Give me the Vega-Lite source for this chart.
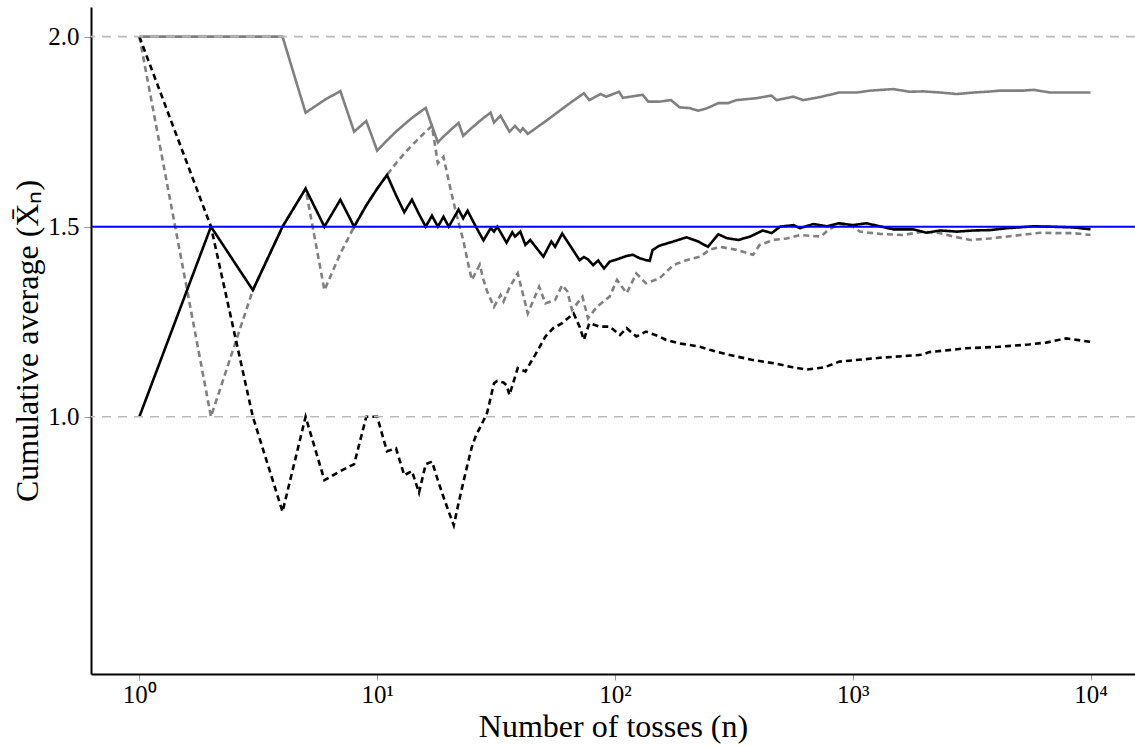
{
  "$schema": "https://vega.github.io/schema/vega-lite/v6.json",
  "width": 1044,
  "height": 667,
  "autosize": {"type": "none"},
  "padding": {"left": 91, "top": 7, "right": 0, "bottom": 72},
  "background": "white",
  "config": {
    "view": {"stroke": null},
    "axis": {
      "grid": false,
      "domainColor": "black",
      "domainWidth": 2,
      "tickColor": "#999999",
      "tickWidth": 1,
      "tickSize": 6,
      "labelFont": "Liberation Serif",
      "labelFontSize": 25,
      "labelColor": "black",
      "titleFont": "Liberation Serif",
      "titleFontSize": 32,
      "titleFontWeight": "normal",
      "titleColor": "black"
    }
  },
  "datasets": {
    "series": [
      {"s": "DG", "n": 1, "v": 2.0}, {"s": "DG", "n": 2, "v": 1.0}, {"s": "DG", "n": 3, "v": 1.333}, {"s": "DG", "n": 4, "v": 1.5},
      {"s": "DG", "n": 5, "v": 1.6}, {"s": "DG", "n": 6, "v": 1.333}, {"s": "DG", "n": 7, "v": 1.429}, {"s": "DG", "n": 8, "v": 1.5},
      {"s": "DG", "n": 9, "v": 1.556}, {"s": "DG", "n": 10, "v": 1.6}, {"s": "DG", "n": 11, "v": 1.636}, {"s": "DG", "n": 12, "v": 1.667},
      {"s": "DG", "n": 13, "v": 1.692}, {"s": "DG", "n": 14, "v": 1.714}, {"s": "DG", "n": 15, "v": 1.733}, {"s": "DG", "n": 16, "v": 1.75},
      {"s": "DG", "n": 17, "v": 1.765}, {"s": "DG", "n": 18, "v": 1.667}, {"s": "DG", "n": 19, "v": 1.684}, {"s": "DG", "n": 20, "v": 1.62},
      {"s": "DG", "n": 21, "v": 1.562}, {"s": "DG", "n": 22, "v": 1.51}, {"s": "DG", "n": 23, "v": 1.465}, {"s": "DG", "n": 24, "v": 1.41},
      {"s": "DG", "n": 25, "v": 1.36}, {"s": "DG", "n": 26, "v": 1.38}, {"s": "DG", "n": 27, "v": 1.4}, {"s": "DG", "n": 28, "v": 1.36},
      {"s": "DG", "n": 29, "v": 1.33}, {"s": "DG", "n": 31, "v": 1.289}, {"s": "DG", "n": 33, "v": 1.32}, {"s": "DG", "n": 34, "v": 1.303},
      {"s": "DG", "n": 36, "v": 1.34}, {"s": "DG", "n": 39, "v": 1.377}, {"s": "DG", "n": 43, "v": 1.272}, {"s": "DG", "n": 48, "v": 1.342},
      {"s": "DG", "n": 51, "v": 1.298}, {"s": "DG", "n": 56, "v": 1.307}, {"s": "DG", "n": 60, "v": 1.346}, {"s": "DG", "n": 63, "v": 1.33},
      {"s": "DG", "n": 66, "v": 1.281}, {"s": "DG", "n": 73, "v": 1.316}, {"s": "DG", "n": 77, "v": 1.259}, {"s": "DG", "n": 84, "v": 1.289},
      {"s": "DG", "n": 95, "v": 1.316}, {"s": "DG", "n": 102, "v": 1.36}, {"s": "DG", "n": 112, "v": 1.325}, {"s": "DG", "n": 123, "v": 1.377},
      {"s": "DG", "n": 135, "v": 1.351}, {"s": "DG", "n": 154, "v": 1.364}, {"s": "DG", "n": 176, "v": 1.399}, {"s": "DG", "n": 200, "v": 1.412},
      {"s": "DG", "n": 228, "v": 1.421}, {"s": "DG", "n": 250, "v": 1.439}, {"s": "DG", "n": 276, "v": 1.447}, {"s": "DG", "n": 324, "v": 1.439},
      {"s": "DG", "n": 381, "v": 1.426}, {"s": "DG", "n": 406, "v": 1.452}, {"s": "DG", "n": 463, "v": 1.465}, {"s": "DG", "n": 527, "v": 1.469},
      {"s": "DG", "n": 600, "v": 1.478}, {"s": "DG", "n": 737, "v": 1.474}, {"s": "DG", "n": 786, "v": 1.491}, {"s": "DG", "n": 879, "v": 1.507},
      {"s": "DG", "n": 1000, "v": 1.501}, {"s": "DG", "n": 1070, "v": 1.487}, {"s": "DG", "n": 1300, "v": 1.481}, {"s": "DG", "n": 1625, "v": 1.478},
      {"s": "DG", "n": 1975, "v": 1.487}, {"s": "DG", "n": 2330, "v": 1.483}, {"s": "DG", "n": 2650, "v": 1.474}, {"s": "DG", "n": 3120, "v": 1.465},
      {"s": "DG", "n": 3780, "v": 1.469}, {"s": "DG", "n": 4760, "v": 1.476}, {"s": "DG", "n": 6150, "v": 1.484}, {"s": "DG", "n": 7220, "v": 1.483},
      {"s": "DG", "n": 8480, "v": 1.483}, {"s": "DG", "n": 10000, "v": 1.478},

      {"s": "SG", "n": 1, "v": 2.0}, {"s": "SG", "n": 2, "v": 2.0}, {"s": "SG", "n": 3, "v": 2.0}, {"s": "SG", "n": 4, "v": 2.0},
      {"s": "SG", "n": 5, "v": 1.8}, {"s": "SG", "n": 6, "v": 1.833}, {"s": "SG", "n": 7, "v": 1.857}, {"s": "SG", "n": 8, "v": 1.75},
      {"s": "SG", "n": 9, "v": 1.778}, {"s": "SG", "n": 10, "v": 1.7}, {"s": "SG", "n": 11, "v": 1.727}, {"s": "SG", "n": 12, "v": 1.75},
      {"s": "SG", "n": 13, "v": 1.769}, {"s": "SG", "n": 14, "v": 1.786}, {"s": "SG", "n": 15, "v": 1.8}, {"s": "SG", "n": 16, "v": 1.8125},
      {"s": "SG", "n": 17, "v": 1.765}, {"s": "SG", "n": 18, "v": 1.722}, {"s": "SG", "n": 19, "v": 1.737}, {"s": "SG", "n": 20, "v": 1.75},
      {"s": "SG", "n": 21, "v": 1.762}, {"s": "SG", "n": 22, "v": 1.773}, {"s": "SG", "n": 23, "v": 1.739}, {"s": "SG", "n": 24, "v": 1.75},
      {"s": "SG", "n": 25, "v": 1.76}, {"s": "SG", "n": 26, "v": 1.769}, {"s": "SG", "n": 27, "v": 1.778}, {"s": "SG", "n": 28, "v": 1.786},
      {"s": "SG", "n": 29, "v": 1.793}, {"s": "SG", "n": 30, "v": 1.8}, {"s": "SG", "n": 31, "v": 1.774}, {"s": "SG", "n": 33, "v": 1.792},
      {"s": "SG", "n": 36, "v": 1.75}, {"s": "SG", "n": 38, "v": 1.765}, {"s": "SG", "n": 40, "v": 1.75}, {"s": "SG", "n": 41, "v": 1.759},
      {"s": "SG", "n": 43, "v": 1.744}, {"s": "SG", "n": 52, "v": 1.781}, {"s": "SG", "n": 63, "v": 1.82}, {"s": "SG", "n": 74, "v": 1.851},
      {"s": "SG", "n": 78, "v": 1.833}, {"s": "SG", "n": 87, "v": 1.849}, {"s": "SG", "n": 92, "v": 1.842}, {"s": "SG", "n": 104, "v": 1.855},
      {"s": "SG", "n": 108, "v": 1.839}, {"s": "SG", "n": 131, "v": 1.847}, {"s": "SG", "n": 138, "v": 1.829}, {"s": "SG", "n": 154, "v": 1.829},
      {"s": "SG", "n": 172, "v": 1.833}, {"s": "SG", "n": 187, "v": 1.814}, {"s": "SG", "n": 206, "v": 1.812}, {"s": "SG", "n": 224, "v": 1.805},
      {"s": "SG", "n": 245, "v": 1.812}, {"s": "SG", "n": 272, "v": 1.825}, {"s": "SG", "n": 299, "v": 1.825}, {"s": "SG", "n": 324, "v": 1.833},
      {"s": "SG", "n": 393, "v": 1.838}, {"s": "SG", "n": 455, "v": 1.845}, {"s": "SG", "n": 478, "v": 1.833}, {"s": "SG", "n": 563, "v": 1.842},
      {"s": "SG", "n": 619, "v": 1.833}, {"s": "SG", "n": 728, "v": 1.841}, {"s": "SG", "n": 879, "v": 1.853}, {"s": "SG", "n": 1040, "v": 1.853},
      {"s": "SG", "n": 1186, "v": 1.858}, {"s": "SG", "n": 1479, "v": 1.862}, {"s": "SG", "n": 1734, "v": 1.855}, {"s": "SG", "n": 1975, "v": 1.856},
      {"s": "SG", "n": 2332, "v": 1.853}, {"s": "SG", "n": 2739, "v": 1.849}, {"s": "SG", "n": 3222, "v": 1.853}, {"s": "SG", "n": 3656, "v": 1.855},
      {"s": "SG", "n": 4165, "v": 1.858}, {"s": "SG", "n": 5223, "v": 1.858}, {"s": "SG", "n": 5757, "v": 1.86}, {"s": "SG", "n": 6763, "v": 1.853},
      {"s": "SG", "n": 8481, "v": 1.853}, {"s": "SG", "n": 10000, "v": 1.853},

      {"s": "DB", "n": 1, "v": 2.0}, {"s": "DB", "n": 2, "v": 1.5}, {"s": "DB", "n": 3, "v": 1.0}, {"s": "DB", "n": 4, "v": 0.75},
      {"s": "DB", "n": 5, "v": 1.0}, {"s": "DB", "n": 6, "v": 0.833}, {"s": "DB", "n": 7, "v": 0.857}, {"s": "DB", "n": 8, "v": 0.875},
      {"s": "DB", "n": 9, "v": 1.0}, {"s": "DB", "n": 10, "v": 1.0}, {"s": "DB", "n": 11, "v": 0.909}, {"s": "DB", "n": 12, "v": 0.917},
      {"s": "DB", "n": 13, "v": 0.846}, {"s": "DB", "n": 14, "v": 0.857}, {"s": "DB", "n": 15, "v": 0.8}, {"s": "DB", "n": 16, "v": 0.875},
      {"s": "DB", "n": 17, "v": 0.882}, {"s": "DB", "n": 18, "v": 0.833}, {"s": "DB", "n": 19, "v": 0.789}, {"s": "DB", "n": 20, "v": 0.75},
      {"s": "DB", "n": 21, "v": 0.714}, {"s": "DB", "n": 22, "v": 0.773}, {"s": "DB", "n": 23, "v": 0.826}, {"s": "DB", "n": 24, "v": 0.875},
      {"s": "DB", "n": 25, "v": 0.92}, {"s": "DB", "n": 26, "v": 0.95}, {"s": "DB", "n": 27, "v": 0.97}, {"s": "DB", "n": 28, "v": 0.99},
      {"s": "DB", "n": 29, "v": 1.01}, {"s": "DB", "n": 30, "v": 1.05}, {"s": "DB", "n": 31, "v": 1.088}, {"s": "DB", "n": 32, "v": 1.094},
      {"s": "DB", "n": 34, "v": 1.09}, {"s": "DB", "n": 35, "v": 1.083}, {"s": "DB", "n": 36, "v": 1.057}, {"s": "DB", "n": 38, "v": 1.105},
      {"s": "DB", "n": 39, "v": 1.128}, {"s": "DB", "n": 42, "v": 1.119}, {"s": "DB", "n": 47, "v": 1.171}, {"s": "DB", "n": 51, "v": 1.211},
      {"s": "DB", "n": 55, "v": 1.233}, {"s": "DB", "n": 60, "v": 1.246}, {"s": "DB", "n": 67, "v": 1.272}, {"s": "DB", "n": 71, "v": 1.237},
      {"s": "DB", "n": 74, "v": 1.202}, {"s": "DB", "n": 78, "v": 1.246}, {"s": "DB", "n": 86, "v": 1.237}, {"s": "DB", "n": 95, "v": 1.237},
      {"s": "DB", "n": 105, "v": 1.215}, {"s": "DB", "n": 112, "v": 1.233}, {"s": "DB", "n": 123, "v": 1.211}, {"s": "DB", "n": 135, "v": 1.224},
      {"s": "DB", "n": 154, "v": 1.211}, {"s": "DB", "n": 164, "v": 1.202}, {"s": "DB", "n": 187, "v": 1.193}, {"s": "DB", "n": 228, "v": 1.184},
      {"s": "DB", "n": 250, "v": 1.176}, {"s": "DB", "n": 300, "v": 1.163}, {"s": "DB", "n": 375, "v": 1.15}, {"s": "DB", "n": 470, "v": 1.14},
      {"s": "DB", "n": 560, "v": 1.13}, {"s": "DB", "n": 640, "v": 1.124}, {"s": "DB", "n": 760, "v": 1.13}, {"s": "DB", "n": 880, "v": 1.145},
      {"s": "DB", "n": 1300, "v": 1.155}, {"s": "DB", "n": 1950, "v": 1.163}, {"s": "DB", "n": 2100, "v": 1.17}, {"s": "DB", "n": 3000, "v": 1.18},
      {"s": "DB", "n": 4100, "v": 1.184}, {"s": "DB", "n": 5500, "v": 1.19}, {"s": "DB", "n": 6500, "v": 1.195}, {"s": "DB", "n": 7900, "v": 1.206},
      {"s": "DB", "n": 10000, "v": 1.197},

      {"s": "SB", "n": 1, "v": 1.0}, {"s": "SB", "n": 2, "v": 1.5}, {"s": "SB", "n": 3, "v": 1.333}, {"s": "SB", "n": 4, "v": 1.5},
      {"s": "SB", "n": 5, "v": 1.6}, {"s": "SB", "n": 6, "v": 1.5}, {"s": "SB", "n": 7, "v": 1.571}, {"s": "SB", "n": 8, "v": 1.5},
      {"s": "SB", "n": 9, "v": 1.556}, {"s": "SB", "n": 10, "v": 1.6}, {"s": "SB", "n": 11, "v": 1.636}, {"s": "SB", "n": 12, "v": 1.583},
      {"s": "SB", "n": 13, "v": 1.538}, {"s": "SB", "n": 14, "v": 1.571}, {"s": "SB", "n": 15, "v": 1.533}, {"s": "SB", "n": 16, "v": 1.5},
      {"s": "SB", "n": 17, "v": 1.529}, {"s": "SB", "n": 18, "v": 1.5}, {"s": "SB", "n": 19, "v": 1.526}, {"s": "SB", "n": 20, "v": 1.5},
      {"s": "SB", "n": 22, "v": 1.545}, {"s": "SB", "n": 23, "v": 1.522}, {"s": "SB", "n": 24, "v": 1.542}, {"s": "SB", "n": 26, "v": 1.5},
      {"s": "SB", "n": 28, "v": 1.464}, {"s": "SB", "n": 30, "v": 1.496}, {"s": "SB", "n": 31, "v": 1.487}, {"s": "SB", "n": 32, "v": 1.5},
      {"s": "SB", "n": 35, "v": 1.458}, {"s": "SB", "n": 37, "v": 1.485}, {"s": "SB", "n": 38, "v": 1.474}, {"s": "SB", "n": 40, "v": 1.487},
      {"s": "SB", "n": 42, "v": 1.452}, {"s": "SB", "n": 44, "v": 1.465}, {"s": "SB", "n": 50, "v": 1.421}, {"s": "SB", "n": 54, "v": 1.461},
      {"s": "SB", "n": 56, "v": 1.447}, {"s": "SB", "n": 60, "v": 1.482}, {"s": "SB", "n": 71, "v": 1.412}, {"s": "SB", "n": 74, "v": 1.42},
      {"s": "SB", "n": 77, "v": 1.414}, {"s": "SB", "n": 81, "v": 1.399}, {"s": "SB", "n": 85, "v": 1.411}, {"s": "SB", "n": 90, "v": 1.39},
      {"s": "SB", "n": 95, "v": 1.408}, {"s": "SB", "n": 102, "v": 1.414}, {"s": "SB", "n": 112, "v": 1.423}, {"s": "SB", "n": 119, "v": 1.426},
      {"s": "SB", "n": 127, "v": 1.417}, {"s": "SB", "n": 135, "v": 1.412}, {"s": "SB", "n": 140, "v": 1.41}, {"s": "SB", "n": 144, "v": 1.439},
      {"s": "SB", "n": 154, "v": 1.45}, {"s": "SB", "n": 176, "v": 1.461}, {"s": "SB", "n": 200, "v": 1.472}, {"s": "SB", "n": 224, "v": 1.461},
      {"s": "SB", "n": 246, "v": 1.447}, {"s": "SB", "n": 272, "v": 1.48}, {"s": "SB", "n": 295, "v": 1.47}, {"s": "SB", "n": 330, "v": 1.465},
      {"s": "SB", "n": 370, "v": 1.474}, {"s": "SB", "n": 419, "v": 1.49}, {"s": "SB", "n": 456, "v": 1.483}, {"s": "SB", "n": 495, "v": 1.5},
      {"s": "SB", "n": 563, "v": 1.504}, {"s": "SB", "n": 600, "v": 1.496}, {"s": "SB", "n": 683, "v": 1.507}, {"s": "SB", "n": 778, "v": 1.501},
      {"s": "SB", "n": 879, "v": 1.509}, {"s": "SB", "n": 1000, "v": 1.504}, {"s": "SB", "n": 1140, "v": 1.509}, {"s": "SB", "n": 1300, "v": 1.501},
      {"s": "SB", "n": 1479, "v": 1.493}, {"s": "SB", "n": 1790, "v": 1.493}, {"s": "SB", "n": 2040, "v": 1.484}, {"s": "SB", "n": 2330, "v": 1.49},
      {"s": "SB", "n": 2740, "v": 1.487}, {"s": "SB", "n": 3220, "v": 1.49}, {"s": "SB", "n": 3780, "v": 1.491}, {"s": "SB", "n": 4460, "v": 1.496},
      {"s": "SB", "n": 5760, "v": 1.501}, {"s": "SB", "n": 6760, "v": 1.5}, {"s": "SB", "n": 8480, "v": 1.498}, {"s": "SB", "n": 10000, "v": 1.493}
    ],
    "bounds": [{"y": 1.0}, {"y": 2.0}],
    "target": [{"y": 1.5}]
  },
  "layer": [
    {
      "data": {"name": "series"},
      "mark": {"type": "line", "strokeWidth": 2.6, "strokeJoin": "miter", "strokeCap": "butt"},
      "encoding": {
        "x": {
          "field": "n", "type": "quantitative",
          "scale": {"type": "log", "domain": [0.626, 15380], "nice": false, "zero": false},
          "axis": {
            "values": [1, 10, 100, 1000, 10000],
            "labelExpr": "datum.value == 1 ? '10⁰' : datum.value == 10 ? '10¹' : datum.value == 100 ? '10²' : datum.value == 1000 ? '10³' : '10⁴'",
            "title": "Number of tosses (n)",
            "tickSize": 6,
            "labelPadding": 2,
            "titlePadding": 4
          }
        },
        "y": {
          "field": "v", "type": "quantitative",
          "scale": {"domain": [0.323, 2.078], "nice": false, "zero": false},
          "axis": {
            "values": [1.0, 1.5, 2.0],
            "format": ".1f",
            "title": "Cumulative average (X̄ₙ)",
            "tickSize": 7,
            "labelPadding": 5,
            "titlePadding": 3
          }
        },
        "color": {
          "field": "s", "type": "nominal",
          "scale": {"domain": ["DG", "SG", "DB", "SB"], "range": ["#808080", "#808080", "#000000", "#000000"]},
          "legend": null
        },
        "strokeDash": {
          "field": "s", "type": "nominal",
          "scale": {"domain": ["DG", "SG", "DB", "SB"], "range": [[6, 4], [1, 0], [6, 4], [1, 0]]},
          "legend": null
        }
      }
    },
    {
      "data": {"name": "bounds"},
      "mark": {"type": "rule", "color": "#bbbbbb", "strokeWidth": 1.6, "strokeDash": [9, 7]},
      "encoding": {"y": {"field": "y", "type": "quantitative"}}
    },
    {
      "data": {"name": "target"},
      "mark": {"type": "rule", "color": "#0000ff", "strokeWidth": 2},
      "encoding": {"y": {"field": "y", "type": "quantitative"}}
    }
  ]
}
